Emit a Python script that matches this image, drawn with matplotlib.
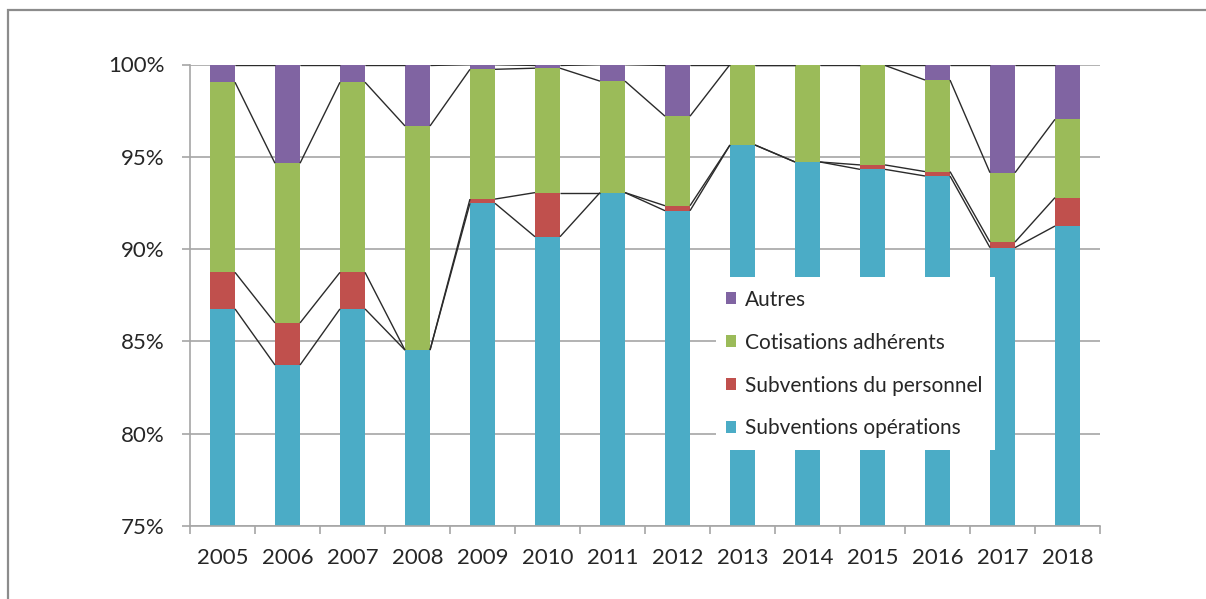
import matplotlib
matplotlib.use("Agg")
import matplotlib.pyplot as plt
from matplotlib.patches import Rectangle, Patch
from matplotlib.ticker import FuncFormatter, FixedLocator

plt.rcParams['font.family'] = ['Lato', 'DejaVu Sans']

years = [str(y) for y in range(2005, 2019)]
# Shares of resources per year (%)
subv_operations = [86.76, 83.72, 86.76, 84.53, 92.48, 90.67, 93.06, 92.08, 95.64, 94.72, 94.32, 93.96, 90.08, 91.25]
subv_personnel = [1.98, 2.28, 1.98, 0.00, 0.23, 2.39, 0.00, 0.27, 0.00, 0.00, 0.24, 0.24, 0.30, 1.54]
cotisations = [10.30, 8.65, 10.30, 12.14, 7.03, 6.74, 6.04, 4.85, 4.36, 5.28, 5.39, 4.96, 3.76, 4.24]
autres = [0.96, 5.35, 0.96, 3.33, 0.26, 0.20, 0.90, 2.80, 0.00, 0.00, 0.05, 0.84, 5.86, 2.97]

series = [
    ("Subventions opérations", subv_operations, "#4BACC6"),
    ("Subventions du personnel", subv_personnel, "#C0504D"),
    ("Cotisations adhérents", cotisations, "#9BBB59"),
    ("Autres", autres, "#8064A2"),
]

W, H = 1206, 599
fig = plt.figure(figsize=(W / 100, H / 100), dpi=100)
ax = fig.add_axes([190 / W, 1 - 526 / H, 910 / W, 461.5 / H])

x = list(range(len(years)))
width = 0.385
bottom = [0.0] * len(years)
tops = []
for label, vals, color in series:
    ax.bar(x, vals, width=width, bottom=bottom, color=color, label=label,
           zorder=2, linewidth=0)
    bottom = [b + v for b, v in zip(bottom, vals)]
    tops.append(list(bottom))

# Series lines joining the top of each segment between neighbouring bars
for top in tops:
    for i in range(len(x) - 1):
        ax.plot([x[i] + width / 2, x[i + 1] - width / 2], [top[i], top[i + 1]],
                color="#2B2B2B", linewidth=1.0, zorder=4, solid_capstyle="butt")

ax.set_xlim(-0.5, len(years) - 0.5)
ax.set_ylim(75, 100)
ax.yaxis.set_major_locator(FixedLocator([75, 80, 85, 90, 95, 100]))
ax.yaxis.set_major_formatter(FuncFormatter(lambda v, p: f"{v:.0f}%"))
ax.set_xticks(x)
ax.set_xticklabels(years)
ax.xaxis.set_minor_locator(FixedLocator([i - 0.5 for i in range(len(years) + 1)]))

grid_c = "#A6A6A6"
ax.grid(axis="y", color=grid_c, linewidth=1.2, zorder=0.5)
ax.set_axisbelow(True)
for s in ["top", "right"]:
    ax.spines[s].set_visible(False)
for s in ["left", "bottom"]:
    ax.spines[s].set_color(grid_c)
    ax.spines[s].set_linewidth(1.2)

ax.tick_params(axis="y", length=6, width=1.2, color=grid_c, pad=12,
               labelsize=16, labelcolor="#262626")
ax.tick_params(axis="x", which="major", length=0, pad=16,
               labelsize=16, labelcolor="#262626")
ax.tick_params(axis="x", which="minor", length=6, width=1.2, color=grid_c)

# White legend panel laid over the bars
ax.add_patch(Rectangle((0.578, 0.165), 0.307, 0.3745, transform=ax.transAxes,
                       facecolor="white", edgecolor="none", zorder=3))
handles = [Patch(facecolor=c, label=l) for l, v, c in series][::-1]
leg = ax.legend(handles=handles, loc="upper left", bbox_to_anchor=(0.589, 0.512),
                frameon=False, fontsize=15, handlelength=0.5, handleheight=0.5,
                handletextpad=0.4, labelspacing=1.1, borderpad=0, borderaxespad=0)
leg.set_zorder(5)
for t in leg.get_texts():
    t.set_color("#262626")

# Outer chart border
fig.add_artist(Rectangle((8 / W, -0.05), 1.2, 1 - 10 / H + 0.05,
                         transform=fig.transFigure, fill=False,
                         edgecolor="#8C8C8C", linewidth=1.6))

fig.savefig("out.png", dpi=100)
